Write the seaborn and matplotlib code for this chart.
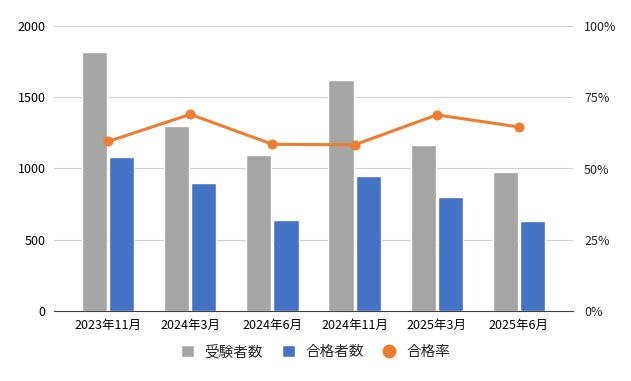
import numpy as np
import pandas as pd
import matplotlib
matplotlib.use("Agg")
import matplotlib.pyplot as plt
import seaborn as sns
from matplotlib.lines import Line2D
from matplotlib.patches import Patch

# データ
exams = ["2023年11月", "2024年3月", "2024年6月", "2024年11月", "2025年3月", "2025年6月"]
applicants = [1815, 1300, 1095, 1620, 1165, 975]
passers = [1080, 900, 640, 947, 800, 632]
pass_rate = [59.5, 69.0, 58.5, 58.3, 68.8, 64.6]

gray = "#A5A5A5"
blue = "#4472C4"
orange = "#ED7D31"

sns.set_style("white")
plt.rcParams["font.family"] = ["Noto Sans CJK JP", "DejaVu Sans"]

df = pd.DataFrame({
    "回": exams * 2,
    "人数": applicants + passers,
    "種別": ["受験者数"] * len(exams) + ["合格者数"] * len(exams),
})

fig = plt.figure(figsize=(6.31, 3.81), dpi=100)
ax = fig.add_axes([54 / 631, 70 / 381, 519 / 631, 285 / 381])

sns.barplot(data=df, x="回", y="人数", hue="種別", order=exams,
            hue_order=["受験者数", "合格者数"], palette=[gray, blue],
            saturation=1, width=0.66, gap=0.07, ax=ax, legend=False)

ax.set_ylim(0, 2000)
ax.set_yticks([0, 500, 1000, 1500, 2000])
ax.set_xlim(-0.66, 5.66)
ax.grid(axis="y", color="#D0D0D0", linewidth=0.8)
ax.set_axisbelow(True)
ax.set_xlabel("")
ax.set_ylabel("")
for s in ["top", "right", "left"]:
    ax.spines[s].set_visible(False)
ax.spines["bottom"].set_color("#404040")
ax.tick_params(axis="both", length=0, labelsize=9, colors="#000000", pad=6)

# 合格率 (右軸)
ax2 = ax.twinx()
sns.lineplot(x=np.arange(len(exams)), y=pass_rate, ax=ax2, color=orange,
             linewidth=2.2, marker="o", markersize=6.5, markeredgecolor=orange)
ax2.set_ylim(0, 100)
ax2.set_yticks([0, 25, 50, 75, 100])
ax2.set_yticklabels([f"{v}%" for v in [0, 25, 50, 75, 100]])
ax2.set_xlim(-0.66, 5.66)
for s in ["top", "right", "left", "bottom"]:
    ax2.spines[s].set_visible(False)
ax2.tick_params(axis="y", length=0, labelsize=9, pad=8)

handles = [
    Patch(facecolor=gray, label="受験者数"),
    Patch(facecolor=blue, label="合格者数"),
    Line2D([], [], color=orange, marker="o", linestyle="none", markersize=9, label="合格率"),
]
fig.legend(handles=handles, loc="center", bbox_to_anchor=(0.5, 1 - 352 / 381),
           ncol=3, frameon=False, fontsize=10.5, handlelength=0.9, handleheight=0.9,
           handletextpad=0.7, columnspacing=1.3)

fig.savefig("out.png", dpi=100)
